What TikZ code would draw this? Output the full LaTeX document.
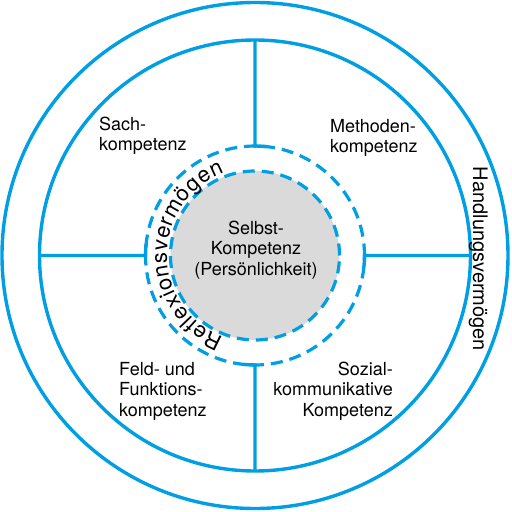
\documentclass[tikz,border=0pt]{standalone}
\usepackage{fontspec}
\setmainfont{TeX Gyre Heros}
\usetikzlibrary{decorations.text}
\definecolor{ringblue}{RGB}{0,158,226}
\definecolor{coregray}{RGB}{218,218,219}
\begin{document}
\begin{tikzpicture}[x=1pt,y=1pt,
  ring/.style={draw=ringblue, line width=3.4pt},
  dashring/.style={draw=ringblue, line width=3.2pt, dash pattern=on 12pt off 7pt},
  lbl/.style={font=\fontsize{18}{20.5}\selectfont, inner sep=0pt, text=black},
  ringlbl/.style={font=\fontsize{20}{22}\selectfont, inner sep=0pt, text=black},
]
\useasboundingbox (-255,-256.5) rectangle (257,255.5);
\coordinate (c) at (0,0);
\draw[ring] (c) circle[radius=253];
\draw[ring] (c) circle[radius=215.5];
\fill[coregray] (c) circle[radius=84.5];
\draw[dashring] (c) circle[radius=84.5];
\draw[dashring] (c) circle[radius=109.5];
\coordinate (tI) at (0,215.5);   \coordinate (tO) at (0,109.5);
\coordinate (rI) at (215.5,0);   \coordinate (rO) at (109.5,0);
\coordinate (bI) at (0,-215.5);  \coordinate (bO) at (0,-109.5);
\coordinate (lI) at (-215.5,0);  \coordinate (lO) at (-109.5,0);
\draw[ring] (tI) -- (tO) arc[start angle=90, end angle=84, radius=109.5];
\draw[ring] (rI) -- (rO) arc[start angle=0, end angle=-6, radius=109.5];
\draw[ring] (bI) -- (bO) arc[start angle=270, end angle=264, radius=109.5];
\draw[ring] (lI) -- (lO) arc[start angle=180, end angle=174, radius=109.5];
\node[lbl, align=left, anchor=west] (sach) at (-156,120) {Sach-\\kompetenz};
\node[lbl, align=left, anchor=west] (meth) at (75,117.7) {Methoden-\\kompetenz};
\node[lbl, align=left, anchor=west] (feld) at (-136,-135.5) {Feld- und\\Funktions-\\kompetenz};
\node[lbl, align=right, anchor=east] (sozial) at (138,-135.5) {Sozial-\\kommunikative\\Kompetenz};
\node[lbl, align=center] (selbst) at (1,5.7) {Selbst-\\Kompetenz\\(Persönlichkeit)};
\node[ringlbl, anchor=base, rotate=-90] (hand) at (218,-3.5) {Handlungsvermögen};
\begin{scope}
\fontsize{22}{24}\selectfont
\path[decorate, decoration={text along path, text={|\fontsize{22}{24}\selectfont|Reflexionsvermögen}, text align={fit to path}}] (249:88) arc[start angle=249, end angle=110.5, radius=88];
\end{scope}
\end{tikzpicture}
\end{document}
